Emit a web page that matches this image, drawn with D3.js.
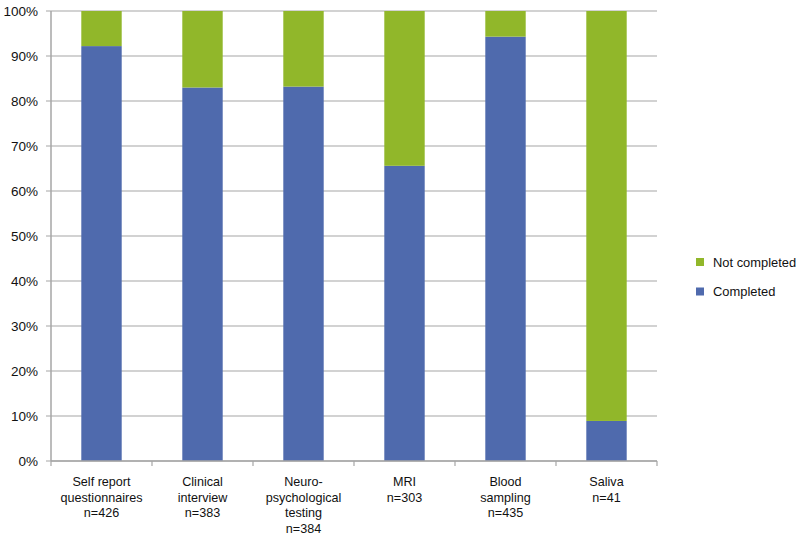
<!DOCTYPE html>
<html><head><meta charset="utf-8">
<script src="https://cdn.jsdelivr.net/npm/d3@7"></script>
<style>body{margin:0;background:#fff}svg{display:block}text{font-family:"Liberation Sans",Arial,sans-serif;fill:#111}</style>
</head><body>
<svg id="c" width="800" height="539"></svg>
<script>
const categories = [
  ["Self report","questionnaires","n=426"],
  ["Clinical","interview","n=383"],
  ["Neuro-","psychological","testing","n=384"],
  ["MRI","n=303"],
  ["Blood","sampling","n=435"],
  ["Saliva","n=41"]
];
const completed = [92.2, 83.0, 83.2, 65.6, 94.3, 8.9];
const notCompleted = completed.map(v => 100 - v);
const seriesNames = ["Completed","Not completed"];
const colors = ["#4f6aad","#91b72a"];
const yTicks = [0,10,20,30,40,50,60,70,80,90,100];

const svg = d3.select("#c");
const L = 51, R = 657, T = 11, B = 461;
const x = d3.scaleBand().domain(d3.range(categories.length)).range([L,R]).paddingInner(0.6).paddingOuter(0.3);
const y = d3.scaleLinear().domain([0,100]).range([B,T]);

// gridlines
svg.append("g").selectAll("line").data(yTicks).join("line")
  .attr("x1",L-5).attr("x2",R).attr("y1",d=>y(d)).attr("y2",d=>y(d))
  .attr("stroke","#a6a6a6").attr("stroke-width",1.2);

// y labels
svg.append("g").selectAll("text").data(yTicks).join("text")
  .attr("x",38).attr("y",d=>y(d)).attr("dy","0.35em").attr("text-anchor","end")
  .attr("font-size",13.5).text(d=>d+"%");

// bars
const stack = d3.stack().keys([0,1]).value((d,k)=> k===0 ? completed[d] : notCompleted[d]);
const stacked = stack(d3.range(categories.length));
svg.append("g").selectAll("g").data(stacked).join("g")
  .attr("fill",(d,i)=>colors[i])
  .selectAll("rect").data(d=>d).join("rect")
  .attr("x",(d,i)=>x(i)).attr("width",x.bandwidth())
  .attr("y",d=>y(d[1])).attr("height",d=>y(d[0])-y(d[1]));

// axes lines
svg.append("line").attr("x1",L).attr("x2",L).attr("y1",T).attr("y2",B).attr("stroke","#a6a6a6").attr("stroke-width",1.5);
svg.append("line").attr("x1",L).attr("x2",R).attr("y1",B).attr("y2",B).attr("stroke","#a6a6a6").attr("stroke-width",1.5);
const step = (R-L)/categories.length;
svg.append("g").selectAll("line").data(d3.range(categories.length+1)).join("line")
  .attr("x1",i=>L+i*step).attr("x2",i=>L+i*step).attr("y1",B).attr("y2",B+5)
  .attr("stroke","#a6a6a6").attr("stroke-width",1.2);

// x labels
const xl = svg.append("g").selectAll("text").data(categories).join("text")
  .attr("text-anchor","middle").attr("font-size",12.6)
  .attr("x",(d,i)=>x(i)+x.bandwidth()/2).attr("y",482);
xl.selectAll("tspan").data(d=>d).join("tspan")
  .attr("x",function(){return this.parentNode.getAttribute("x");})
  .attr("dy",(d,i)=>i===0?"0.35em":"15.5px").text(d=>d);

// legend
const leg = [{name:"Not completed",c:colors[1],y:262},{name:"Completed",c:colors[0],y:291.5}];
const lg = svg.append("g");
lg.selectAll("rect").data(leg).join("rect").attr("x",696).attr("y",d=>d.y-4).attr("width",8).attr("height",8).attr("fill",d=>d.c);
lg.selectAll("text").data(leg).join("text").attr("x",713).attr("y",d=>d.y).attr("dy","0.35em").attr("font-size",12.9).text(d=>d.name);
</script>
</body></html>
